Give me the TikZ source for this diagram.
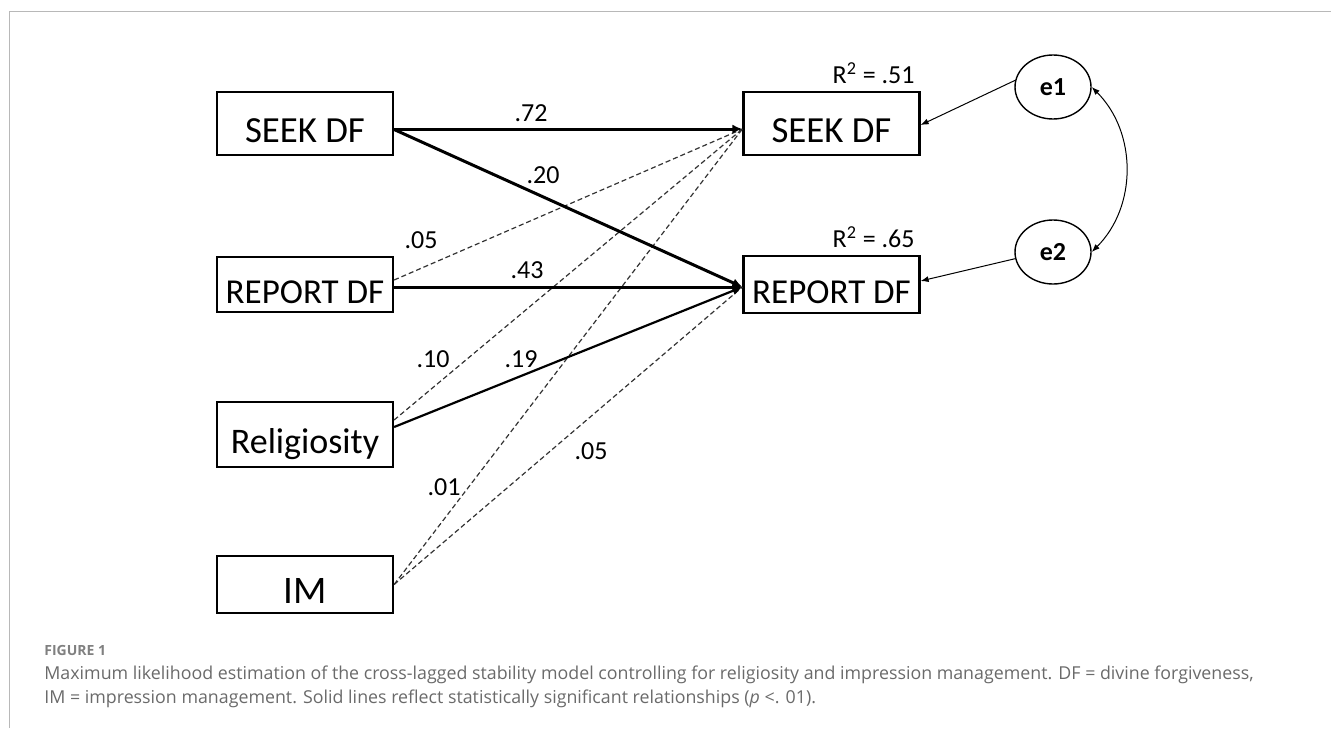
\documentclass[tikz,border=0pt]{standalone}
\usepackage{fontspec}
\setmainfont{Carlito}
\newfontfamily\capfont{Open Sans}
\usetikzlibrary{arrows.meta,shapes.geometric}
\definecolor{framegray}{HTML}{B8B8B8}
\definecolor{capgray}{HTML}{6A6A6A}
\definecolor{dashgray}{HTML}{333333}

\begin{document}
\begin{tikzpicture}[x=0.5pt,y=-0.5pt,
    varbox/.style={draw,line width=1.1pt,inner sep=2pt,minimum width=88pt,
      text height=19pt,text depth=0pt,font=\fontsize{17.5}{20}\selectfont},
    errnode/.style={draw,ellipse,line width=0.7pt,minimum width=38pt,minimum height=32pt,
      inner sep=0pt,font=\bfseries\fontsize{13}{15}\selectfont},
    coef/.style={font=\fontsize{13}{15}\selectfont},
    sigpath/.style={line width=1.5pt,-{Latex[length=5pt,width=4.5pt]}},
    nspath/.style={line width=0.6pt,dashgray,dash pattern=on 2.5pt off 1.5pt},
    errpath/.style={line width=0.5pt,-{Latex[length=4pt,width=3pt]}},
    covpath/.style={line width=0.5pt,{Latex[length=4pt,width=3pt]}-{Latex[length=4pt,width=3pt]}},
    capline/.style={anchor=base west,inner sep=0pt,text=capgray,
      font=\capfont\fontsize{8.9}{10}\selectfont}]
  \useasboundingbox (0,0) rectangle (1331,728);
  %--- frame ---
  \draw[framegray,line width=0.75pt] (9.5,728) -- (9.5,11.5) -- (1331,11.5);

  %--- time 1 (left column) ---
  \node[varbox,minimum height=31.5pt,font=\fontsize{18.4}{20}\selectfont] (seekOne) at (305,123.5) {SEEK DF};
  \node[varbox,minimum height=27.5pt] (reportOne) at (305,284.5) {REPORT DF};
  \node[varbox,minimum height=32.5pt,font=\fontsize{18}{20}\selectfont] (relig) at (305,434.5) {Religiosity};
  \node[varbox,minimum height=28.5pt,font=\fontsize{19.5}{20}\selectfont] (im) at (305,584.5) {IM};

  %--- time 2 (right column) ---
  \node[varbox,minimum height=31.5pt,font=\fontsize{18.4}{20}\selectfont] (seekTwo) at (831.5,123.5) {SEEK DF};
  \node[varbox,minimum height=28.5pt] (reportTwo) at (831.5,284.5) {REPORT DF};
  \node[coef,anchor=base east,inner sep=0pt] (rsqSeek) at (915,83) {R\textsuperscript{2} = .51};
  \node[coef,anchor=base east,inner sep=0pt] (rsqReport) at (915,247) {R\textsuperscript{2} = .65};
  \coordinate (inSeek) at ([yshift=-2.75pt]seekTwo.west);
  \coordinate (inReport) at ([yshift=-1.25pt]reportTwo.west);

  %--- error terms ---
  \node[errnode] (eOne) at (1053,87) {e1};
  \node[errnode] (eTwo) at (1053,252) {e2};
  \draw[errpath] (eOne.170) -- ([yshift=-0.75pt]seekTwo.east);
  \draw[errpath] (eTwo.190) -- ([yshift=1.75pt]reportTwo.east);
  \draw[covpath] (eOne.east) to[bend left=45] (eTwo.east);

  %--- non-significant paths (dashed) ---
  \draw[nspath] ([yshift=2.25pt]reportOne.east) -- (inSeek);
  \draw[nspath] ([yshift=7.25pt]relig.east) -- (inSeek);
  \draw[nspath] (im.east) -- (inSeek);
  \draw[nspath] (im.east) -- (inReport);

  %--- significant paths (solid) ---
  \draw[sigpath] ([yshift=-2.75pt]seekOne.east) -- (inSeek);
  \draw[sigpath] ([yshift=-3pt]seekOne.east) -- (inReport);
  \draw[sigpath] ([yshift=-1.25pt]reportOne.east) -- (inReport);
  \draw[sigpath,line width=1.1pt] ([yshift=3.75pt]relig.east) -- (inReport);

  %--- coefficients ---
  \node[coef] (cSS) at (531,113) {.72};
  \node[coef] (cSR) at (543,175) {.20};
  \node[coef] (cRS) at (421,240) {.05};
  \node[coef] (cRR) at (527,270) {.43};
  \node[coef] (cGS) at (433,359) {.10};
  \node[coef] (cGR) at (521,359) {.19};
  \node[coef] (cIS) at (444,487) {.01};
  \node[coef] (cIR) at (591,451) {.05};

  %--- caption ---
  \node[anchor=base west,inner sep=0pt,text=capgray!85,
    font=\capfont\bfseries\fontsize{7}{8}\selectfont] (figLabel) at (44,655) {FIGURE 1};
  \node[capline] (capLineA) at (44,679) {Maximum likelihood estimation of the cross-lagged stability model controlling for religiosity and impression management. DF = divine forgiveness,};
  \node[capline] (capLineB) at (44,703) {IM = impression management. Solid lines reflect statistically significant relationships (\textit{p} <. 01).};
\end{tikzpicture}
\end{document}
